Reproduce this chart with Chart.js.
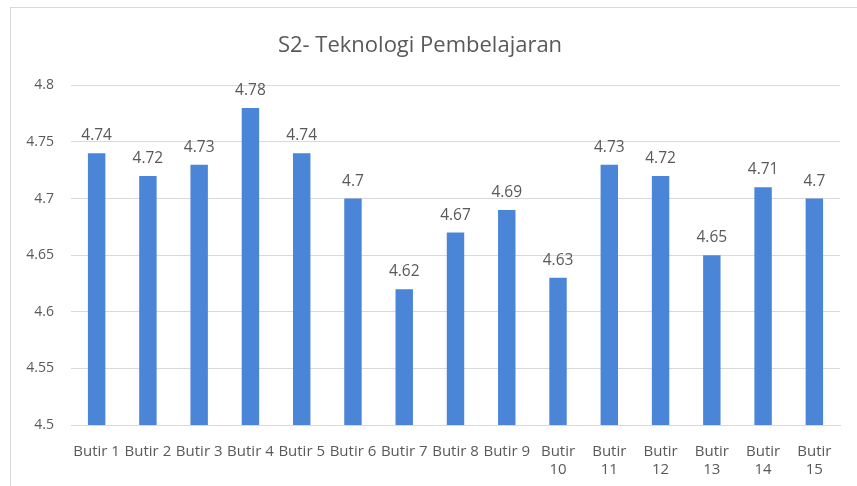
<!DOCTYPE html>
<html>
<head>
<meta charset="utf-8">
<script src="https://cdn.jsdelivr.net/npm/chart.js@4/dist/chart.umd.min.js"></script>
<style>
  html, body { margin: 0; padding: 0; background: #fff; }
  #wrap { position: relative; width: 857px; height: 486px; }
  #frame { position: absolute; left: 10px; top: 7px; right: -2px; bottom: -2px; border-left: 1px solid #d9d9d9; border-top: 1px solid #d9d9d9; }
  canvas { position: absolute; left: 0; top: 0; }
</style>
</head>
<body>
<div id="wrap">
  <div id="frame"></div>
  <canvas id="c" width="857" height="486"></canvas>
</div>
<script>
const categories = ['Butir 1','Butir 2','Butir 3','Butir 4','Butir 5','Butir 6','Butir 7','Butir 8','Butir 9','Butir 10','Butir 11','Butir 12','Butir 13','Butir 14','Butir 15'];
const values = [4.74, 4.72, 4.73, 4.78, 4.74, 4.70, 4.62, 4.67, 4.69, 4.63, 4.73, 4.72, 4.65, 4.71, 4.70];
const yTicks = [4.5, 4.55, 4.6, 4.65, 4.7, 4.75, 4.8];
const titleText = 'S2- Teknologi Pembelajaran';

const FONT = '"Open Sans", sans-serif';
const GREY = '#595959';

const labelPlugin = {
  id: 'valueLabels',
  afterDatasetsDraw(chart) {
    const ctx = chart.ctx;
    const meta = chart.getDatasetMeta(0);
    ctx.save();
    ctx.font = '15.5px ' + FONT;
    ctx.fillStyle = GREY;
    ctx.textAlign = 'center';
    ctx.textBaseline = 'alphabetic';
    meta.data.forEach((bar, i) => {
      ctx.fillText(String(values[i]), bar.x, bar.y - 13);
    });
    ctx.restore();
  }
};

new Chart(document.getElementById('c'), {
  type: 'bar',
  data: {
    labels: categories.map(c => c.length > 7 ? c.split(' ') : c),
    datasets: [{
      data: values,
      backgroundColor: '#4a85d7',
      borderWidth: 0,
      categoryPercentage: 1,
      barPercentage: 0.34
    }]
  },
  plugins: [labelPlugin],
  options: {
    responsive: false,
    animation: false,
    devicePixelRatio: 1,
    layout: { padding: { left: 0, right: 17, top: 0, bottom: 0 } },
    plugins: {
      legend: { display: false },
      tooltip: { enabled: false },
      title: {
        display: true,
        text: titleText,
        color: GREY,
        font: { family: FONT, size: 22, weight: 'normal' },
        padding: { top: 33, bottom: 26 }
      }
    },
    scales: {
      x: {
        grid: { display: false, drawTicks: false },
        border: { display: true, color: '#d9d9d9', width: 1 },
        ticks: {
          color: GREY,
          font: { family: FONT, size: 15, lineHeight: 1.25 },
          maxRotation: 0,
          autoSkip: false,
          padding: 17
        },
        afterFit(scale) { scale.height = 61; }
      },
      y: {
        min: 4.5,
        max: 4.8,
        afterBuildTicks(scale) { scale.ticks = yTicks.map(v => ({ value: v })); },
        grid: { color: '#d9d9d9', drawTicks: false },
        border: { display: false },
        ticks: {
          color: GREY,
          font: { family: FONT, size: 14 },
          padding: 17,
          callback: v => String(Math.round(v * 100) / 100)
        },
        afterFit(scale) { scale.width = 71; }
      }
    }
  }
});
</script>
</body>
</html>
